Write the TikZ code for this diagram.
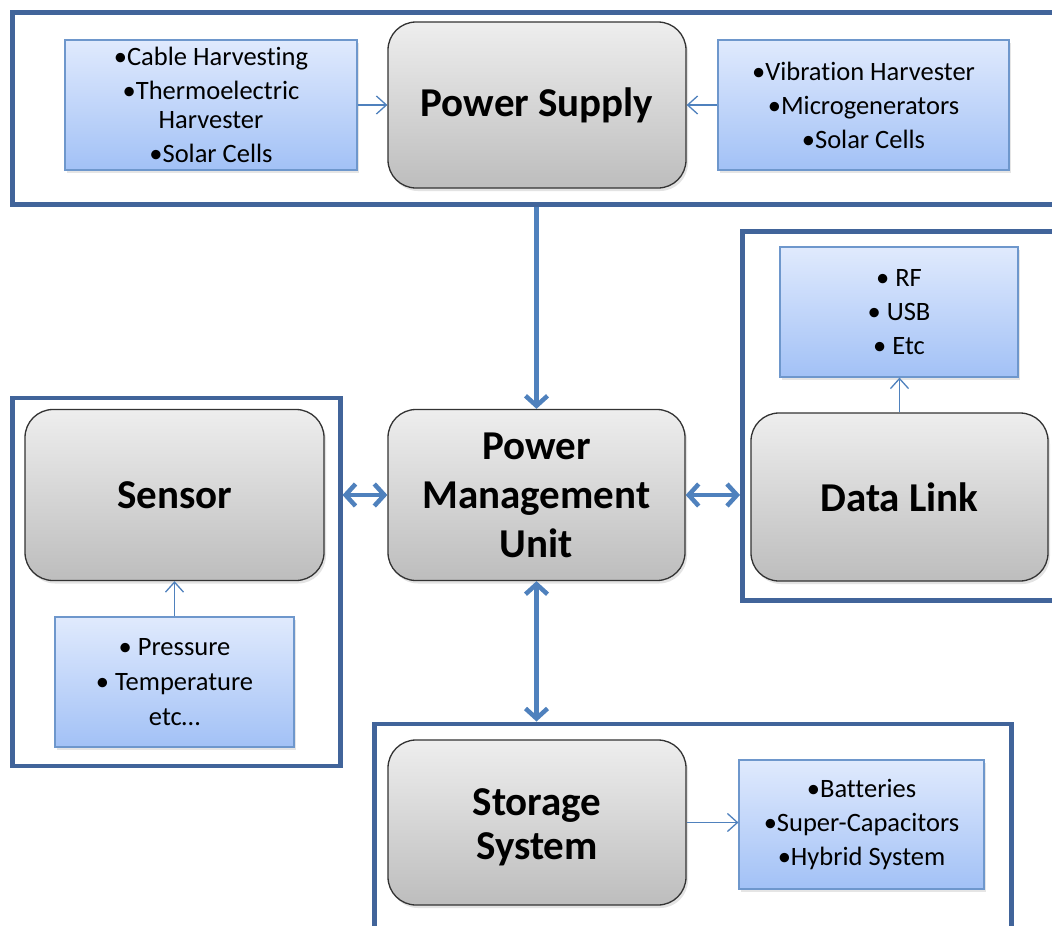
\documentclass[tikz,border=0pt]{standalone}
\usepackage{fontspec}
\setmainfont{Carlito}[Ligatures={NoCommon}]
\usetikzlibrary{arrows.meta,shadows,calc}
\definecolor{frameblue}{HTML}{41649A}
\definecolor{arrowblue}{HTML}{4F81BD}
\definecolor{lbtop}{HTML}{E0EAFD}
\definecolor{lbbot}{HTML}{A2C1F6}
\definecolor{lbline}{HTML}{6E97CC}
\definecolor{gtop}{HTML}{EEEEEE}
\definecolor{gbot}{HTML}{BDBDBD}
\tikzset{
  frame/.style={draw=frameblue, line width=4.5pt, fill=white, inner sep=0pt},
  titlefont/.style={font=\fontsize{41}{49}\selectfont\bfseries},
  graybox/.style={draw=black!80, line width=1.3pt, rounded corners=28pt,
     top color=gtop, bottom color=gbot, inner sep=0pt, align=center, titlefont,
     drop shadow={opacity=0.22, shadow xshift=2pt, shadow yshift=-3pt}},
  bluebox/.style={draw=lbline, line width=1.2pt,
     top color=lbtop, bottom color=lbbot, inner sep=0pt, align=center,
     font=\fontsize{26.5}{29}\selectfont,
     drop shadow={opacity=0.2, shadow xshift=2pt, shadow yshift=-3pt}},
  thin/.style={draw=arrowblue, line width=1.3pt, -{Straight Barb[length=10pt,width=18pt]}},
  thick/.style={draw=arrowblue, line width=4.5pt, -{Straight Barb[length=10pt,width=22pt]}},
  thickboth/.style={draw=arrowblue, line width=4.5pt, {Straight Barb[length=10pt,width=22pt]}-{Straight Barb[length=10pt,width=22pt]}}
}
\begin{document}
\begin{tikzpicture}[x=1pt,y=-1pt]
\path[use as bounding box] (0,0) rectangle (1052,926);
\clip (0,0) rectangle (1052,926);
\fill[white] (0,0) rectangle (1052,926);

% frames
\node[frame, minimum width=1060pt, minimum height=192pt, anchor=north west] (topframe) at (10,10) {};
\node[frame, minimum width=330pt, minimum height=369pt, anchor=north west] (dlframe) at (740,229) {};
\node[frame, minimum width=328pt, minimum height=368pt, anchor=north west] (sensorframe) at (10,395.5) {};
\node[frame, minimum width=637pt, minimum height=240pt, anchor=north west] (stframe) at (372,721.5) {};

% gray boxes
\node[graybox, minimum width=298pt, minimum height=166pt] (ps) at (537,105) {Power Supply};
\node[graybox, minimum width=297pt, minimum height=171pt] (pmu) at (536.5,495) {Power\\Management\\Unit};
\node[graybox, minimum width=299pt, minimum height=171pt] (sensor) at (174.5,495) {Sensor};
\node[graybox, minimum width=297pt, minimum height=168pt] (dl) at (899.5,497) {Data Link};
\node[graybox, minimum width=298pt, minimum height=165pt] (st) at (537,822.5) {};
\node[titlefont, align=center, font=\fontsize{41}{44}\selectfont\bfseries, inner sep=0pt] (sttext) at ($(st.center)+(0,5)$) {Storage\\System};

% blue boxes
\node[bluebox, minimum width=292pt, minimum height=130pt] (lb) at (211,105)
  {\textbullet Cable Harvesting\\[5pt]\textbullet Thermoelectric\\Harvester\\[5pt]\textbullet Solar Cells};
\node[bluebox, minimum width=291pt, minimum height=130pt] (rb) at (863.5,105)
  {\textbullet Vibration Harvester\\[5pt]\textbullet Microgenerators\\[5pt]\textbullet Solar Cells};
\node[bluebox, minimum width=238pt, minimum height=130pt] (rf) at (899,312)
  {\textbullet{} RF\\[5pt]\textbullet{} USB\\[5pt]\textbullet{} Etc};
\node[bluebox, minimum width=239pt, minimum height=130pt] (pr) at (174.5,682)
  {\textbullet{} Pressure\\[6pt]\textbullet{} Temperature\\[6pt]etc\ldots};
\node[bluebox, minimum width=245pt, minimum height=129pt] (bat) at (861.5,824.5)
  {\textbullet Batteries\\[5pt]\textbullet Super-Capacitors\\[5pt]\textbullet Hybrid System};

% connectors
\draw[thin] (lb.east |- ps.west) -- (ps.west);
\draw[thin] (rb.west |- ps.east) -- (ps.east);
\draw[thin] (dl.north) -- (dl.north |- rf.south);
\draw[thin] (pr.north) -- (pr.north |- sensor.south);
\draw[thin] (st.east) -- (st.east -| bat.west);
\draw[thick] (pmu.north |- topframe.south) -- (pmu.north);
\draw[thickboth] (sensorframe.east |- pmu.west) -- (pmu.west);
\draw[thickboth] (pmu.east) -- (pmu.east -| dlframe.west);
\draw[thickboth] (pmu.south) -- (pmu.south |- stframe.north);
\end{tikzpicture}
\end{document}
